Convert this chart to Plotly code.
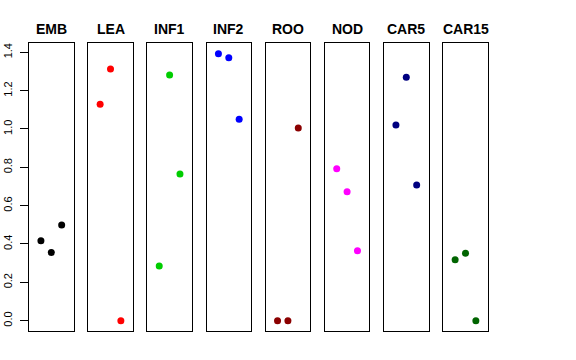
import plotly.graph_objects as go

panels = ["EMB", "LEA", "INF1", "INF2", "ROO", "NOD", "CAR5", "CAR15"]
colors = ["#000000", "#FF0000", "#00CD00", "#0000FF", "#8B0000", "#FF00FF", "#000080", "#006400"]
positions = [1, 2, 3]
EMB = [0.417, 0.355, 0.499]
LEA = [1.129, 1.313, 0.0]
INF1 = [0.285, 1.282, 0.765]
INF2 = [1.393, 1.372, 1.051]
ROO = [0.0, 0.0, 1.005]
NOD = [0.793, 0.673, 0.365]
CAR5 = [1.021, 1.270, 0.708]
CAR15 = [0.318, 0.352, 0.0]
values = [EMB, LEA, INF1, INF2, ROO, NOD, CAR5, CAR15]
y_ticks = [0.0, 0.2, 0.4, 0.6, 0.8, 1.0, 1.2, 1.4]
y_tick_text = ["0.0", "0.2", "0.4", "0.6", "0.8", "1.0", "1.2", "1.4"]

W, H = 576, 360
ml, mr, mt, mb = 29, 88, 43, 29
pw = W - ml - mr
ph = H - mt - mb
panel_left = [29, 88.2, 147.3, 206.5, 265.6, 324.8, 384, 443.2]
panel_w = 44.6

fig = go.Figure()
for i, (name, col, vals) in enumerate(zip(panels, colors, values)):
    n = i + 1
    xa = "x" if n == 1 else f"x{n}"
    ya = "y" if n == 1 else f"y{n}"
    fig.add_trace(go.Scatter(x=positions, y=vals, mode="markers",
                             marker=dict(color=col, size=7, line=dict(width=0)),
                             xaxis=xa, yaxis=ya, showlegend=False, hoverinfo="skip"))
    d0 = (panel_left[i] - ml) / pw
    d1 = min((panel_left[i] + panel_w - ml) / pw, 1.0)
    xkey = "xaxis" if n == 1 else f"xaxis{n}"
    ykey = "yaxis" if n == 1 else f"yaxis{n}"
    fig.layout[xkey] = dict(domain=[d0, d1], anchor=ya, range=[-0.15, 4.15],
                            showgrid=False, zeroline=False, showticklabels=False, ticks="",
                            showline=True, mirror=True, linecolor="#000000", linewidth=1,
                            fixedrange=True)
    yconf = dict(domain=[0, 1], anchor=xa, range=[-0.054, 1.4485], showgrid=False,
                 zeroline=False, showline=True, mirror=True, linecolor="#000000",
                 linewidth=1, fixedrange=True, automargin=False)
    if n == 1:
        yconf.update(tickmode="array", tickvals=y_ticks, ticktext=y_tick_text,
                     ticks="outside", ticklen=8, tickcolor="#000000", tickwidth=1,
                     tickangle=-90, tickfont=dict(family="Liberation Sans, Arial", size=11, color="#000000"),
                     ticklabelstandoff=4)
    else:
        yconf.update(showticklabels=False, ticks="")
    fig.layout[ykey] = yconf
    fig.add_annotation(text=f"<b>{name}</b>", x=(d0 + d1) / 2, y=(H - mb - 29) / ph,
                       xref="paper", yref="paper", showarrow=False, xanchor="center", yanchor="middle",
                       font=dict(family="Liberation Sans, Arial", size=14, color="#000000"))

fig.update_layout(width=W, height=H, margin=dict(l=ml, r=mr, t=mt, b=mb, autoexpand=False),
                  paper_bgcolor="white", plot_bgcolor="white")
fig.write_html("out.html", config={"displayModeBar": False},
               post_script="document.body.style.margin='0';")
